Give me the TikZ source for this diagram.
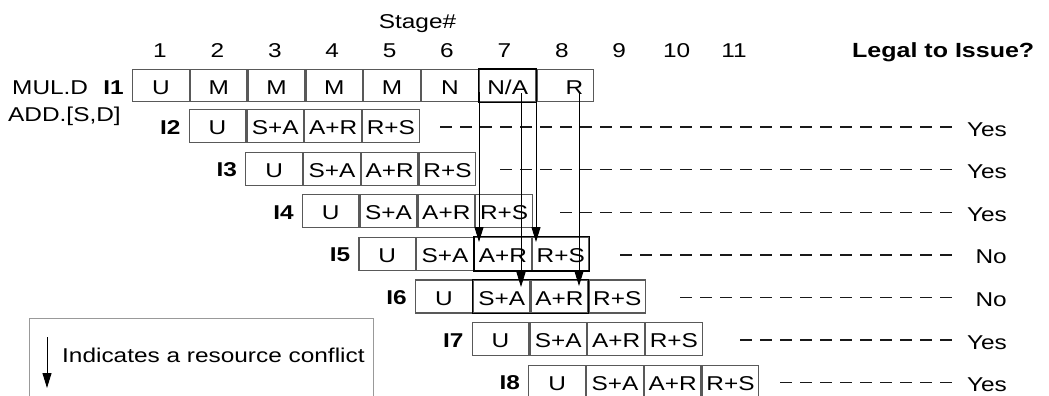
\documentclass[tikz,border=0pt]{standalone}
\usepackage{fontspec}
\setmainfont{Liberation Sans}[FakeStretch=1.22]
\usetikzlibrary{arrows.meta}
\begin{document}
\begin{tikzpicture}[x=1pt,y=-1pt,
  every node/.style={font=\fontsize{20pt}{24pt}\selectfont, inner sep=0pt},
  cell/.style={draw=black!65, line width=1.2pt, minimum width=56.6pt, minimum height=33pt,
     text height=17pt, text depth=0pt, anchor=north west},
  hot/.style={draw=black, line width=1.3pt},
  lab/.style={font=\fontsize{20pt}{24pt}\selectfont\bfseries, anchor=base east},
  txt/.style={anchor=base west},
  dashline/.style={draw=black!90, line width=1.4pt, dash pattern=on 11.5pt off 8.5pt},
  conflict/.style={draw=black, line width=1pt, -{Triangle[width=9pt,length=15pt]}},
  legendbox/.style={draw=black!40, line width=1pt}
]
\useasboundingbox (0,0) rectangle (1049,396);

% header
\node[anchor=base] (stage) at (417.5,28.3) {Stage\#};
\foreach \k in {1,...,11} {
  \node[anchor=base] (n\k) at ({160+57.4*(\k-1)},57) {\k};
}
\node[txt, font=\fontsize{20.5pt}{24pt}\selectfont\bfseries] (legal) at (852,57) {Legal to Issue?};

\node[txt] (mul) at (12,94) {MUL.D};
\node[txt] (add) at (8,121) {ADD.[S,D]};

% row I1
\node[cell, minimum height=32pt] (r1-1) at (132,69) {U};
\foreach \t [count=\c from 2, evaluate=\c as \p using int(\c-1)] in {M,M,M,M,N,N/A} {
  \node[cell, minimum height=32pt] (r1-\c) at (r1-\p.north east) {\t};
}
\node[cell, minimum height=32pt] (r1-8) at (r1-7.north east) {\hspace*{18pt}R};
\node[lab] (l1) at (124,94) {I1};
\draw[hot] (r1-7.north west) rectangle (r1-7.south east);

% rows I2..I8
\foreach \i/\t/\d/\ans in {2/109/440/Yes, 3/151.6/500/Yes, 4/194.2/560/Yes, 5/236.8/620/No, 6/279.4/680/No, 7/322/740/Yes, 8/364.6/780/Yes} {
  \pgfmathsetmacro\xs{132+56.6*(\i-1)}
  \node[cell] (r\i-1) at (\xs,\t) {U};
  \node[cell] (r\i-2) at (r\i-1.north east) {S+A};
  \node[cell] (r\i-3) at (r\i-2.north east) {A+R};
  \node[cell] (r\i-4) at (r\i-3.north east) {R+S};
  \node[lab] (l\i) at (\xs-8,\t+25) {I\i};
  \node[anchor=base east] (ans\i) at (1007,\t+27) {\ans};
  \coordinate (ds\i) at (\d,\t+18);
  \coordinate (de\i) at (951.5,\t+18);
  \draw[dashline] (ds\i) -- (de\i);
}

% conflict cells
\draw[hot] (r5-3.north west) rectangle (r5-4.south east);
\draw[hot] (r6-2.north west) rectangle (r6-3.south east);

% conflict arrows
\coordinate (a1s) at (479,92);   \coordinate (a1e) at (479,242);
\coordinate (a2s) at (521,93);   \coordinate (a2e) at (521,287);
\coordinate (a3s) at (536,93);   \coordinate (a3e) at (536,242);
\coordinate (a4s) at (579,93);   \coordinate (a4e) at (579,286);
\draw[conflict] (a1s) -- (a1e);
\draw[conflict] (a2s) -- (a2e);
\draw[conflict] (a3s) -- (a3e);
\draw[conflict] (a4s) -- (a4e);

% legend
\coordinate (lgtl) at (29,318);
\coordinate (lgbr) at (373,402);
\draw[legendbox] (lgtl) rectangle (lgbr);
\coordinate (lgs) at (47,337);
\coordinate (lge) at (47,388);
\draw[conflict] (lgs) -- (lge);
\node[txt] (legtext) at (62,362) {Indicates a resource conflict};
\end{tikzpicture}
\end{document}
